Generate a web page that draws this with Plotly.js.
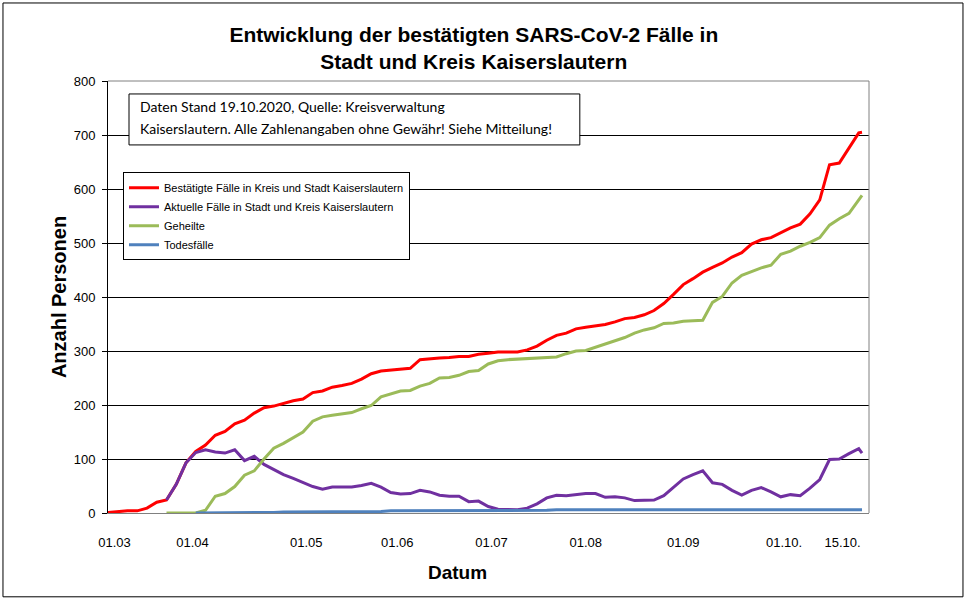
<!DOCTYPE html>
<html>
<head>
<meta charset="utf-8">
<script src="https://cdn.plot.ly/plotly-3.0.1.min.js"></script>
<style>
  html, body { margin: 0; padding: 0; background: #ffffff; }
  #chart { width: 967px; height: 601px; }
</style>
</head>
<body>
<div id="chart"></div>
<script>
// Dates (every third day, data as of 19.10.2020)
const dates = [
  '2020-03-01','2020-03-04','2020-03-07','2020-03-10','2020-03-13','2020-03-16','2020-03-19','2020-03-22','2020-03-25','2020-03-28','2020-03-31',
  '2020-04-03','2020-04-06','2020-04-09','2020-04-12','2020-04-15','2020-04-18','2020-04-21','2020-04-24','2020-04-27','2020-04-30',
  '2020-05-03','2020-05-06','2020-05-09','2020-05-12','2020-05-15','2020-05-18','2020-05-21','2020-05-24','2020-05-27','2020-05-30',
  '2020-06-02','2020-06-05','2020-06-08','2020-06-11','2020-06-14','2020-06-17','2020-06-20','2020-06-23','2020-06-26','2020-06-29',
  '2020-07-02','2020-07-05','2020-07-08','2020-07-11','2020-07-14','2020-07-17','2020-07-20','2020-07-23','2020-07-26','2020-07-29',
  '2020-08-01','2020-08-04','2020-08-07','2020-08-10','2020-08-13','2020-08-16','2020-08-19','2020-08-22','2020-08-25','2020-08-28','2020-08-31',
  '2020-09-03','2020-09-06','2020-09-09','2020-09-12','2020-09-15','2020-09-18','2020-09-21','2020-09-24','2020-09-27','2020-09-30',
  '2020-10-03','2020-10-06','2020-10-09','2020-10-12','2020-10-15','2020-10-18','2020-10-19'
];

// Bestätigte Fälle in Kreis und Stadt Kaiserslautern
const bestaetigt = [
  1,3,4,4,9,20,24,53,93,114,126,
  144,151,165,172,185,195,198,203,208,211,
  223,226,233,236,240,248,258,263,265,267,
  268,284,286,287,288,290,290,294,296,298,
  298,298,302,309,320,329,333,341,344,346,
  349,354,360,362,367,375,388,405,423,434,446,
  455,463,474,482,498,506,510,519,528,535,
  554,580,645,648,675,704,705
];

// Aktuelle Fälle in Stadt und Kreis Kaiserslautern
const aktuell = [
  null,null,null,null,null,null,24,53,93,112,117,
  113,111,117,97,105,90,80,71,64,57,
  49,44,48,48,48,51,55,48,38,35,
  36,42,39,33,31,31,21,22,12,7,
  7,6,9,17,28,33,32,34,36,36,
  29,30,28,23,23,24,32,48,63,71,78,
  56,53,42,33,42,47,39,30,34,32,
  46,62,99,100,110,119,111
];

// Geheilte
const geheilt = [
  null,null,null,null,null,null,0,0,0,0,5,
  31,36,49,70,78,100,120,129,139,150,
  170,178,181,183,186,193,199,215,221,226,
  227,235,240,250,251,255,262,264,276,282,
  284,285,287,288,288,289,295,300,301,307,
  314,319,325,333,339,343,351,352,355,356,357,
  390,401,426,440,447,454,459,479,485,494,
  501,510,533,545,555,580,588
];

// Todesfälle
const tote = [
  null,null,null,null,null,null,null,null,null,0,0,
  1,1,1,1,1,1,1,2,2,2,
  2,2,3,3,3,3,3,3,4,4,
  4,4,4,4,4,5,5,5,5,5,
  5,5,5,5,5,6,6,6,6,6,
  6,6,6,6,6,6,6,6,6,6,6,
  6,6,6,6,6,6,6,6,6,6,
  6,6,6,6,6,6,6
];

// Axis labels as placed under the chart
const tickPositions = ['2020-03-03','2020-03-27','2020-05-01','2020-05-29','2020-06-27','2020-07-26','2020-08-25','2020-09-25','2020-10-13'];
const tickLabels = ['01.03','01.04','01.05','01.06','01.07','01.08','01.09','01.10.','15.10.'];

const seriesNames = [
  'Bestätigte Fälle in Kreis und Stadt Kaiserslautern',
  'Aktuelle Fälle in Stadt und Kreis Kaiserslautern',
  'Geheilte',
  'Todesfälle'
];
const seriesColors = ['#FF0000', '#7030A0', '#9BBB59', '#4F81BD'];
const seriesValues = [bestaetigt, aktuell, geheilt, tote];

const traces = seriesValues.map((vals, i) => ({
  type: 'scatter',
  mode: 'lines',
  x: dates,
  y: vals,
  name: seriesNames[i],
  line: { color: seriesColors[i], width: 3 },
  connectgaps: false,
  hoverinfo: 'skip'
}));

const baseFont = 'Liberation Sans, Arial, sans-serif';

const layout = {
  width: 967,
  height: 601,
  paper_bgcolor: '#ffffff',
  plot_bgcolor: '#ffffff',
  margin: { l: 108, r: 98, t: 81, b: 88 },
  font: { family: baseFont, color: '#000000' },
  title: {
    text: '<b>Entwicklung der bestätigten SARS-CoV-2 Fälle in<br>Stadt und Kreis Kaiserslautern</b>',
    font: { family: baseFont, size: 21, color: '#000000' },
    x: 0.49, xanchor: 'center',
    y: 0.930, yanchor: 'top'
  },
  showlegend: true,
  legend: {
    x: 0.0197, y: 0.789, xanchor: 'left', yanchor: 'top',
    bgcolor: '#ffffff',
    bordercolor: '#000000', borderwidth: 1,
    font: { family: baseFont, size: 11, color: '#000000' },
    traceorder: 'normal'
  },
  xaxis: {
    type: 'date',
    range: ['2020-03-01', '2020-10-21 03:36'],
    showgrid: false,
    zeroline: false,
    showline: true,
    linecolor: '#808080',
    linewidth: 1,
    ticks: '',
    tickmode: 'array',
    tickvals: tickPositions,
    ticktext: tickLabels,
    tickfont: { family: baseFont, size: 13, color: '#000000' },
    ticklabelstandoff: 17,
    fixedrange: true
  },
  yaxis: {
    range: [0, 800],
    dtick: 100,
    tick0: 0,
    showgrid: true,
    gridcolor: '#000000',
    gridwidth: 1,
    zeroline: false,
    showline: true,
    linecolor: '#000000',
    linewidth: 1,
    ticks: 'outside',
    ticklen: 5,
    tickcolor: '#000000',
    tickfont: { family: 'Liberation Sans Narrow, ' + baseFont, size: 13, color: '#000000' },
    ticklabelstandoff: 4,
    title: {
      text: '<b>Anzahl Personen</b>',
      font: { family: baseFont, size: 20, color: '#000000' },
      standoff: 1
    },
    fixedrange: true
  },
  shapes: [
    // plot-area border (grey top and right)
    { type: 'line', xref: 'paper', yref: 'paper', x0: 0, x1: 1, y0: 1, y1: 1, line: { color: '#808080', width: 1 }, layer: 'above' },
    { type: 'line', xref: 'paper', yref: 'paper', x0: 1, x1: 1, y0: 0, y1: 1, line: { color: '#808080', width: 1 }, layer: 'above' },
    // note box
    { type: 'rect', xref: 'paper', yref: 'paper', x0: 0.0276, x1: 0.620, y0: 0.852, y1: 0.970, line: { color: '#000000', width: 1 }, fillcolor: '#ffffff', layer: 'above' },
    // outer chart border
    { type: 'rect', xref: 'paper', yref: 'paper', x0: -0.138, x1: 1.1235, y0: -0.194, y1: 1.1806, line: { color: '#000000', width: 1 }, fillcolor: 'rgba(0,0,0,0)', layer: 'above' }
  ],
  annotations: [
    { xref: 'paper', yref: 'paper', x: 0.0394, y: 0.940, xanchor: 'left', yanchor: 'middle', showarrow: false,
      text: 'Daten Stand 19.10.2020, Quelle: Kreisverwaltung',
      font: { family: 'Lato, Carlito, sans-serif', size: 14, color: '#000000' } },
    { xref: 'paper', yref: 'paper', x: 0.0394, y: 0.889, xanchor: 'left', yanchor: 'middle', showarrow: false,
      text: 'Kaiserslautern. Alle Zahlenangaben ohne Gewähr! Siehe Mitteilung!',
      font: { family: 'Lato, Carlito, sans-serif', size: 14, color: '#000000' } },
    { xref: 'paper', yref: 'paper', x: (457 - 108) / 761, y: (513 - 572) / 432, xanchor: 'center', yanchor: 'middle', showarrow: false,
      text: '<b>Datum</b>',
      font: { family: baseFont, size: 19, color: '#000000' } }
  ]
};

Plotly.newPlot('chart', traces, layout, { staticPlot: true, displayModeBar: false });
</script>
</body>
</html>
